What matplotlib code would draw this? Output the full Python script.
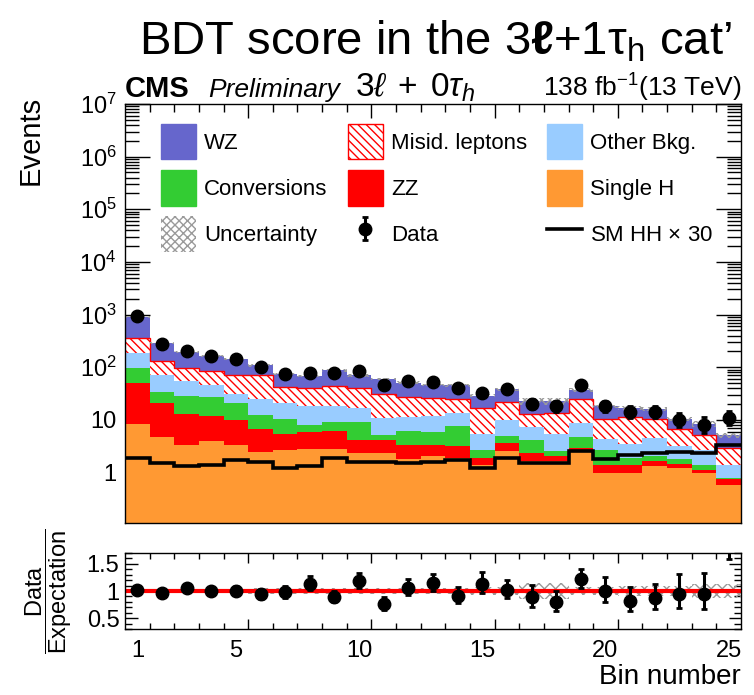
import numpy as np
import matplotlib
matplotlib.use("Agg")
import matplotlib.pyplot as plt
from matplotlib.patches import Patch
from matplotlib.lines import Line2D
from matplotlib.ticker import FixedLocator, FixedFormatter, LogLocator, MultipleLocator, NullFormatter

# ---- yields per bin (BDT bins 1..25) ----
bins = np.arange(1, 26)
single_h = [8.4, 4.7, 3.3, 3.9, 3.3, 2.5, 2.7, 2.8, 2.8, 2.3, 2.3, 1.77, 2.04, 1.9, 1.38,
            2.6, 1.69, 1.69, 2.54, 0.99, 0.99, 1.32, 1.23, 1.0, 0.59]
zz = [42.6, 15.8, 9.7, 8.1, 6.5, 4.3, 2.8, 3.0, 3.3, 1.9, 1.8, 1.53, 1.36, 1.26, 0.52,
      0.96, 0.71, 0.41, 0.41, 0.43, 0.39, 0.37, 0.25, 0.14, 0.15]
conversions = [44, 13.5, 15, 15.5, 10.7, 5.8, 5.1, 2.1, 2.9, 4.8, 1.0, 2.8, 2.5, 4.44, 0.75,
               1.34, 1.8, 0.5, 1.8, 1.28, 0.52, 0.41, 0.29, 0.24, 0.06]
other_bkg = [94, 36, 26, 18.5, 10.5, 11.8, 10.4, 10.1, 9.7, 7.5, 5.9, 5.3, 5.9, 6.0, 2.75,
             4.9, 3.1, 2.8, 4.05, 1.7, 1.6, 2.5, 1.49, 1.32, 0.62]
misid_leptons = [174, 64, 41, 38, 40, 45.6, 21, 22, 25.3, 24.5, 20, 16.1, 13.7, 10.8, 11.6,
                 12.2, 5.9, 8.2, 15.6, 6.2, 7.8, 5.6, 3.54, 2.4, 1.53]
wz = [549, 150, 99, 79, 70, 38, 33, 28, 43, 29, 28, 23.5, 20.5, 20.6, 12,
      16, 9.5, 9.1, 12.6, 7.4, 5.7, 6.0, 3.7, 3.4, 2.15]
sm_hh_x30 = [1.9, 1.53, 1.36, 1.37, 1.71, 1.6, 1.23, 1.36, 1.9, 1.58, 1.58, 1.53, 1.6, 1.71, 1.23,
             1.9, 1.53, 1.53, 2.6, 1.82, 2.13, 2.37, 2.43, 2.37, 3.3]
data = [930, 275, 204, 163, 141, 102, 73, 77, 78, 83, 45, 54, 53, 41, 33,
        39, 20, 18, 45, 18, 14, 14, 10, 8, 11]
rel_unc = [0.04, 0.04, 0.04, 0.04, 0.04, 0.05, 0.05, 0.05, 0.05, 0.05, 0.05, 0.06, 0.06, 0.06, 0.07,
           0.07, 0.15, 0.15, 0.08, 0.08, 0.10, 0.10, 0.10, 0.12, 0.12]
x_tick_labels = ["1", "5", "10", "15", "20", "25"]

plt.rcParams["font.family"] = ["Liberation Sans", "DejaVu Sans"]
plt.rcParams["mathtext.fontset"] = "custom"
plt.rcParams["mathtext.rm"] = "Liberation Sans"
plt.rcParams["mathtext.it"] = "Liberation Sans:italic"
plt.rcParams["mathtext.bf"] = "Liberation Sans:bold"
plt.rcParams["hatch.linewidth"] = 1.0

W, H = 754, 695
fig = plt.figure(figsize=(W / 100, H / 100), dpi=100)


def fx(px):
    return px / W


def fy(py):
    return 1 - py / H


ax = fig.add_axes([fx(125), fy(523), fx(741) - fx(125), fy(104) - fy(523)])
rax = fig.add_axes([fx(125), fy(629), fx(741) - fx(125), fy(553) - fy(629)])

edges = np.arange(0.5, 26.0, 1.0)
c_wz = "#6666CC"
c_conv = "#33CC33"
c_zz = "#FF0000"
c_other = "#99CCFF"
c_h = "#FF9933"
c_unc = "#9a9a9a"
hatch_misid = "\\\\\\\\"

ax.set_yscale("log")

# ---- stacked backgrounds ----
layers = [
    (single_h, c_h, None),
    (zz, c_zz, None),
    (conversions, c_conv, None),
    (other_bkg, c_other, None),
    (misid_leptons, "white", hatch_misid),
    (wz, c_wz, None),
]
base = np.zeros(len(bins))
for vals, color, hatch in layers:
    top = base + np.asarray(vals)
    if hatch is None:
        ax.stairs(top, edges, baseline=base.copy(), fill=True, facecolor=color,
                  edgecolor=color, linewidth=0, zorder=2)
    else:
        ax.stairs(top, edges, baseline=base.copy(), fill=True, facecolor="white",
                  edgecolor="red", hatch=hatch, linewidth=0, zorder=2)
        ax.stairs(top, edges, baseline=None, color="red", linewidth=1.0, zorder=2.5)
    base = top
total = base

# uncertainty on total expectation
rel = np.asarray(rel_unc)
ax.stairs(total * (1 + rel), edges, baseline=total * (1 - rel), fill=True,
          facecolor="none", edgecolor=c_unc, hatch="xxxx", linewidth=0, zorder=3)

# SM HH signal (x30), overlaid
ax.stairs(sm_hh_x30, edges, baseline=None, color="black", linewidth=2.6, zorder=4)

# data with Poisson-like errors
d = np.asarray(data, dtype=float)
err_up = np.sqrt(d + 0.25) + 0.5
err_dn = np.sqrt(d + 0.25) - 0.5
data_cont = ax.errorbar(bins, d, yerr=[err_dn, err_up], fmt="o", color="black",
                        markersize=9, elinewidth=2.2, capsize=2, capthick=2, zorder=5)

ax.set_xlim(0.5, 25.5)
ax.set_ylim(0.11, 1e7)

# y ticks
ax.yaxis.set_major_locator(FixedLocator([1, 10, 1e2, 1e3, 1e4, 1e5, 1e6, 1e7]))
ax.yaxis.set_major_formatter(FixedFormatter(["1", "10", "$10^{2}$", "$10^{3}$", "$10^{4}$",
                                             "$10^{5}$", "$10^{6}$", "$10^{7}$"]))
ax.yaxis.set_minor_locator(LogLocator(base=10, subs=np.arange(2, 10), numticks=20))
ax.yaxis.set_minor_formatter(NullFormatter())

# x ticks: bin edges, longer every five bins
long_edges = [5.5, 10.5, 15.5, 20.5]
short_edges = [e for e in edges[1:-1] if e not in long_edges]
for a in (ax, rax):
    a.xaxis.set_major_locator(FixedLocator(long_edges))
    a.xaxis.set_minor_locator(FixedLocator(short_edges))
    a.xaxis.set_major_formatter(NullFormatter())

ax.tick_params(axis="y", which="major", direction="in", length=18, width=1, right=True,
               labelsize=17, pad=6)
ax.tick_params(axis="y", which="minor", direction="in", length=10, width=1, right=True)
ax.tick_params(axis="x", which="major", direction="in", length=10, width=1, top=True)
ax.tick_params(axis="x", which="minor", direction="in", length=6, width=1, top=True)
ax.set_ylabel("Events", fontsize=21, loc="top")
ax.yaxis.set_label_coords(-0.13, 1.02)

# ---- legend ----
h_wz = Patch(facecolor=c_wz, edgecolor=c_wz)
h_conv = Patch(facecolor=c_conv, edgecolor=c_conv)
h_unc = Patch(facecolor="white", edgecolor=c_unc, hatch="xxxx", linewidth=0)
h_mis = Patch(facecolor="white", edgecolor="red", hatch=hatch_misid, linewidth=1)
h_zz = Patch(facecolor=c_zz, edgecolor=c_zz)
h_oth = Patch(facecolor=c_other, edgecolor=c_other)
h_h = Patch(facecolor=c_h, edgecolor=c_h)
h_hh = Line2D([], [], color="black", linewidth=2.6)
handles = [h_wz, h_conv, h_unc, h_mis, h_zz, data_cont, h_oth, h_h, h_hh]
labels = ["WZ", "Conversions", "Uncertainty", "Misid. leptons", "ZZ", "Data",
          "Other Bkg.", "Single H", r"SM HH $\times$ 30"]
ax.legend(handles, labels, ncol=3, loc="upper left", bbox_to_anchor=(0.058, 0.953),
          frameon=False, fontsize=16, handlelength=1.58, handleheight=2.1,
          handletextpad=0.36, columnspacing=0.92, labelspacing=0.47, borderpad=0,
          borderaxespad=0)

# ---- ratio panel ----
rax.stairs(1 + rel, edges, baseline=1 - rel, fill=True, facecolor="none",
           edgecolor=c_unc, hatch="xxx", linewidth=0, zorder=2)
rax.axhline(1, color="red", linewidth=3, zorder=3)
ratio = d / total
rax.errorbar(bins, ratio, yerr=[err_dn / total, err_up / total], fmt="o", color="black",
             markersize=9, elinewidth=2.2, capsize=2, capthick=2, zorder=5)
rax.set_xlim(0.5, 25.5)
rax.set_ylim(0.3, 1.7)
rax.yaxis.set_major_locator(FixedLocator([0.5, 1.0, 1.5]))
rax.yaxis.set_major_formatter(FixedFormatter(["0.5", "1", "1.5"]))
rax.yaxis.set_minor_locator(MultipleLocator(0.1))
rax.tick_params(axis="y", which="major", direction="in", length=9, width=1, right=True,
                labelsize=17, pad=4)
rax.tick_params(axis="y", which="minor", direction="in", length=5, width=1, right=True)
rax.tick_params(axis="x", which="major", direction="in", length=7, width=1, top=True)
rax.tick_params(axis="x", which="minor", direction="in", length=4, width=1, top=True)

# bin-number labels sit at the bin centres
lab_ax = rax.secondary_xaxis("bottom")
lab_ax.set_xticks([int(t) for t in x_tick_labels], labels=x_tick_labels)
lab_ax.tick_params(length=0, labelsize=17, pad=8)
lab_ax.spines["bottom"].set_visible(False)
lab_ax.set_xlabel("Bin number", fontsize=20, loc="right", labelpad=1)

rax.set_ylabel(r"$\dfrac{\mathrm{Data}}{\mathrm{Expectation}}$", fontsize=17, labelpad=9)

for a in (ax, rax):
    for s in a.spines.values():
        s.set_linewidth(1.0)
        s.set_zorder(10)

# ---- header texts ----
fig.text(fx(125), fy(97), "CMS", fontsize=21, fontweight="bold", ha="left", va="baseline")
fig.text(fx(208), fy(97), "Preliminary", fontsize=19, fontstyle="italic", ha="left",
         va="baseline")
fig.text(fx(355), fy(97), r"$3\ell\;+\;0\tau_{h}$", fontsize=24, ha="left", va="baseline")
fig.text(fx(741), fy(97), r"138 fb$^{\mathregular{-1}}$(13 TeV)", fontsize=19,
         ha="right", va="baseline")

fig.text(fx(435), fy(54), r"BDT score in the 3$\mathbf{ℓ}$+1τ$_{\mathregular{h}}$ cat’",
         fontsize=34, ha="center", va="baseline")

fig.savefig("out.png", dpi=100)
